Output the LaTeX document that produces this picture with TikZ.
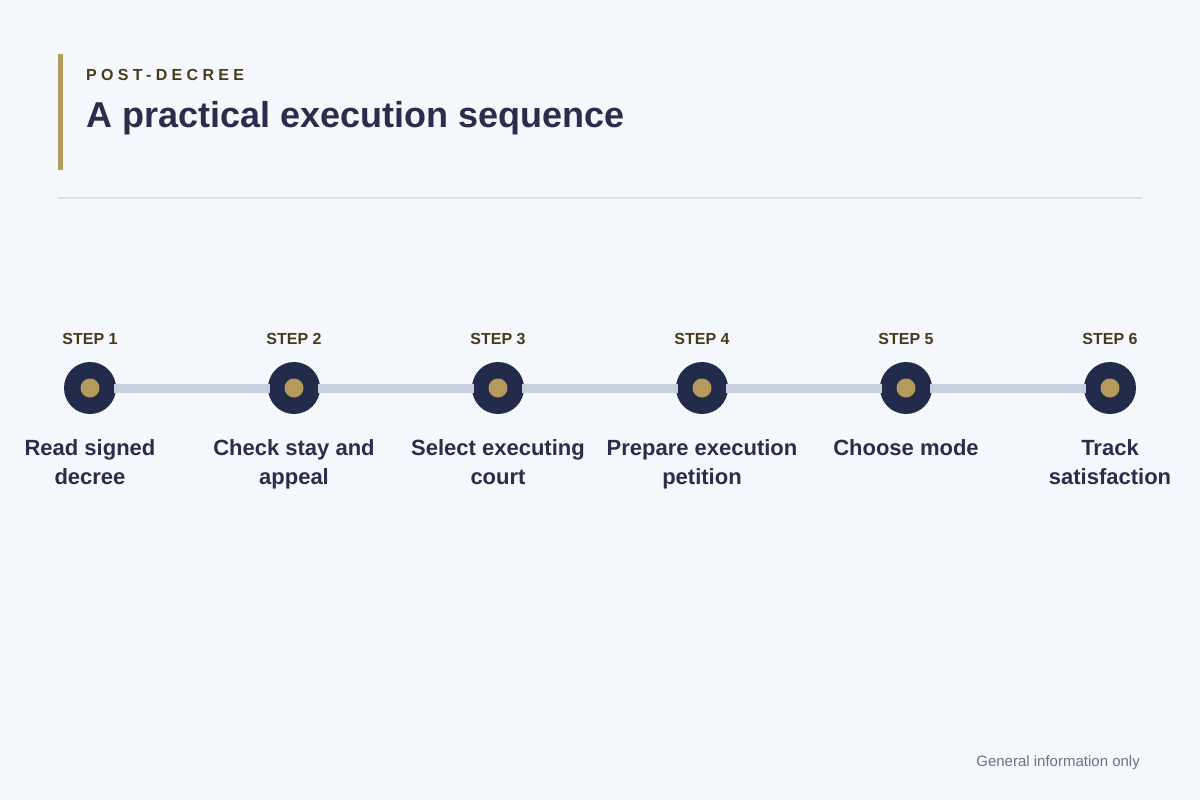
\documentclass[tikz,border=0pt]{standalone}
\usepackage{fontspec}
\setmainfont{Liberation Sans}
\newfontfamily\eyebrowfont[LetterSpace=27]{Liberation Sans}

\definecolor{paper}{HTML}{F5F8FC}
\definecolor{navy}{HTML}{232B4B}
\definecolor{ink}{HTML}{2A2D4B}
\definecolor{brown}{HTML}{4A3A1C}
\definecolor{gold}{HTML}{B69A5B}
\definecolor{track}{HTML}{C6D0DE}
\definecolor{rule}{HTML}{DDE2E8}
\definecolor{muted}{HTML}{6E7282}

\tikzset{
  stepdot/.style={circle, fill=navy, minimum size=52pt, inner sep=0pt},
  steptag/.style={anchor=base, text=brown, font=\fontsize{16}{19}\selectfont\bfseries},
  steplabel/.style={anchor=north, align=center, text=ink, font=\fontsize{22}{29}\selectfont\bfseries},
  link/.style={track, line width=9pt, shorten <=-2pt, shorten >=-2pt}
}

\begin{document}
\begin{tikzpicture}[x=1pt,y=-1pt]
  \useasboundingbox[fill=paper] (0,0) rectangle (1200,800);

  % Heading
  \fill[gold] (58,54) rectangle (63,170);
  \node[anchor=base west, inner sep=0pt, text=brown, font=\eyebrowfont\fontsize{16}{19}\selectfont\bfseries] (eyebrow) at (86,81) {POST-DECREE};
  \node[anchor=base west, inner sep=0pt, text=ink, font=\fontsize{36}{42}\selectfont\bfseries] (title) at (86,127) {A practical execution sequence};
  \draw[rule, line width=2pt] (58,198) -- (1142,198);

  % Steps
  \foreach \i/\txt in {1/{Read signed\\decree}, 2/{Check stay and\\appeal}, 3/{Select executing\\court},
                       4/{Prepare execution\\petition}, 5/{Choose mode}, 6/{Track\\satisfaction}} {
    \node[stepdot] (step\i) at ({90+204*(\i-1)},388) {};
    \node[steptag] (tag\i) at ({90+204*(\i-1)},344) {STEP \i};
    \node[steplabel, inner sep=0pt] (label\i) at ({90+204*(\i-1)},439) {\txt};
  }
  \foreach \i [evaluate=\i as \j using int(\i+1)] in {1,...,5}
    \draw[link] (step\i) -- (step\j);
  \foreach \i in {1,...,6}
    \fill[gold] (step\i) circle (9.5);

  \node[anchor=base east, inner sep=0pt, text=muted, font=\fontsize{15}{18}\selectfont] (note) at (1140,766) {General information only};
\end{tikzpicture}
\end{document}
